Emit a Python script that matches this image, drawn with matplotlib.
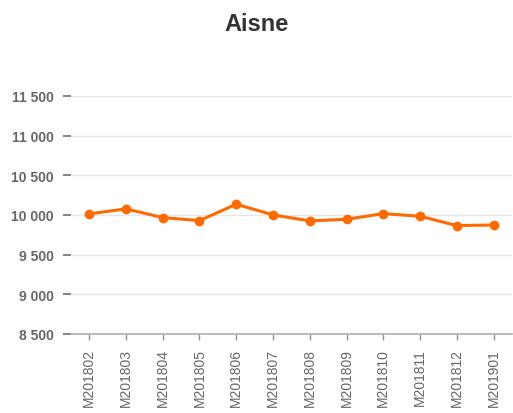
import matplotlib
matplotlib.use('Agg')
from matplotlib import pyplot as plt
from matplotlib.ticker import FuncFormatter

# monthly values
months = ['M201802', 'M201803', 'M201804', 'M201805', 'M201806', 'M201807',
          'M201808', 'M201809', 'M201810', 'M201811', 'M201812', 'M201901']
values = [10013, 10076, 9966, 9928, 10135, 10000,
          9924, 9945, 10016, 9983, 9865, 9873]
y_ticks = [8500, 9000, 9500, 10000, 10500, 11000, 11500]

plt.rcParams['font.family'] = ['Liberation Sans', 'DejaVu Sans']

fig = plt.figure(figsize=(5.13, 4.14), dpi=100)
ax = fig.add_axes([0.138, 0.191, 0.860, 0.575])

x = range(len(months))
ax.plot(x, values, color='#ff6a00', lw=2.2, marker='o', markersize=6, zorder=3)

ax.set_xlim(-0.5, len(months) - 0.5)
ax.set_ylim(8500, 11500)
ax.set_yticks(y_ticks)
ax.yaxis.set_major_formatter(FuncFormatter(lambda v, p: f'{int(v):,}'.replace(',', ' ')))
ax.set_xticks(list(x))
ax.set_xticklabels(months, rotation=90)

ax.grid(axis='y', color='#e6e6e6', lw=1)
ax.set_axisbelow(True)
for side in ['top', 'right', 'left']:
    ax.spines[side].set_visible(False)
ax.spines['bottom'].set_color('#b0b0b0')
ax.spines['bottom'].set_linewidth(1.2)

ax.tick_params(axis='y', length=6, width=1.2, color='#707070', pad=6.5,
               labelsize=10, labelcolor='#666666')
ax.tick_params(axis='x', length=4, width=1, color='#909090', pad=6,
               labelsize=10, labelcolor='#666666')
for lbl in ax.get_yticklabels():
    lbl.set_fontweight('bold')

fig.text(0.5, 0.942, 'Aisne', ha='center', va='center', fontsize=17,
         fontweight='bold', color='#333333')

fig.savefig('out.png', dpi=100)
